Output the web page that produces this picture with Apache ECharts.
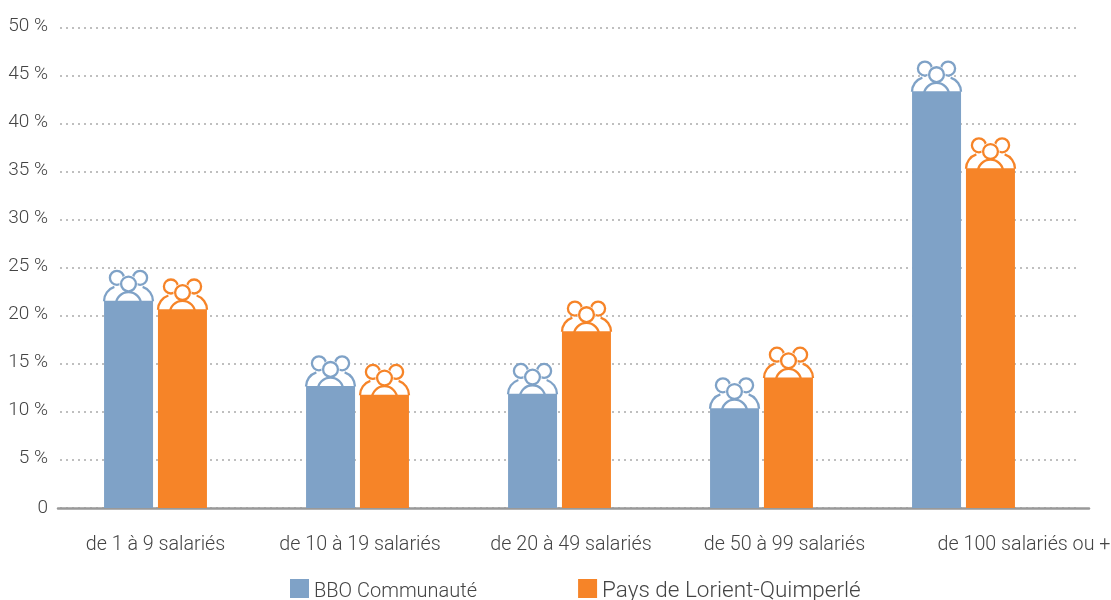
<!DOCTYPE html>
<html><head><meta charset="utf-8">
<style>html,body{margin:0;padding:0;background:#fff}#c{width:1111px;height:600px}</style>
<script src="https://cdn.jsdelivr.net/npm/echarts@6/dist/echarts.min.js"></script>
</head><body><div id="c"></div>
<script>
const categories = ['de 1 à 9 salariés','de 10 à 19 salariés','de 20 à 49 salariés','de 50 à 99 salariés','de 100 salariés ou +'];
const labelShift = [0,2.5,11.5,23,60.5];
const bbo = [21.6,12.7,11.9,10.4,43.4];
const lorient = [20.7,11.8,18.4,13.6,35.4];
const seriesNames = ['BBO Communauté','Pays de Lorient-Quimperlé'];
const BLUE='#7fa2c7', ORANGE='#f68428', TXT='#444', FONT='Roboto,sans-serif';
const TOP=28, BOTTOM=92;

function iconSeries(name,data,color,offset){
  return {type:'custom',xAxisIndex:0,yAxisIndex:0,silent:true,z:5,legendHoverLink:false,
    data:data.map((v,i)=>[i,v]),encode:{x:0,y:1},
    renderItem(params,api){
      const p=api.coord([api.value(0),api.value(1)]);
      const cx=p[0]+offset, y=p[1];
      const lw=2.3;
      const side=(dx)=>[
        {type:'arc',shape:{cx:cx+dx*9.5,cy:y+0.5,r:15,startAngle:dx<0?Math.PI*1.0:Math.PI*1.6,endAngle:dx<0?Math.PI*1.4:Math.PI*2},style:{stroke:color,lineWidth:lw,fill:null}},
        {type:'circle',shape:{cx:cx+dx*11.6,cy:y-22.8,r:7},style:{stroke:color,lineWidth:lw,fill:'#fff'}}
      ];
      return {type:'group',children:[
        ...side(-1),...side(1),
        {type:'circle',shape:{cx:cx,cy:y+4.2,r:12.7},style:{fill:'#fff',stroke:'#fff',lineWidth:6}},
        {type:'circle',shape:{cx:cx,cy:y-16.7,r:7.4},style:{fill:'#fff',stroke:'#fff',lineWidth:3.5}},
        {type:'circle',shape:{cx:cx,cy:y+4.2,r:12.7},style:{fill:'#fff',stroke:color,lineWidth:lw}},
        {type:'circle',shape:{cx:cx,cy:y-16.7,r:7.4},style:{fill:'#fff',stroke:color,lineWidth:lw}}
      ]};
    }};
}

const chart=echarts.init(document.getElementById('c'),null,{renderer:'canvas'});
chart.setOption({
  animation:false,
  textStyle:{fontFamily:FONT},
  legend:{left:290,top:579,padding:0,itemWidth:19,itemHeight:19,itemGap:101,icon:'rect',
    data:seriesNames,
    formatter:n=>n===seriesNames[0]?'{a|'+n+'}':'{b|'+n+'}',
    textStyle:{color:TXT,fontFamily:FONT,fontWeight:300,rich:{
      a:{fontSize:20,fontWeight:300,fontFamily:FONT,color:TXT,padding:[6,0,0,0]},
      b:{fontSize:22.5,fontWeight:300,fontFamily:FONT,color:TXT,padding:[6,0,0,0]}}}},
  grid:[
    {left:54.5,width:1010,top:TOP,bottom:BOTTOM,outerBoundsMode:'none'},
    {left:60,width:1020,top:TOP,bottom:BOTTOM,outerBoundsMode:'none'},
    {left:58,width:1031,top:TOP,bottom:BOTTOM,outerBoundsMode:'none'}
  ],
  xAxis:[
    {type:'category',gridIndex:0,
     data:categories.map((c,i)=>({value:c,textStyle:{padding:[0,0,0,2*labelShift[i]]}})),
     axisLine:{show:false},axisTick:{show:false},
     axisLabel:{color:TXT,fontSize:19.7,fontWeight:300,margin:27,fontFamily:FONT,interval:0,hideOverlap:false}},
    {type:'value',gridIndex:1,show:false,min:0,max:1},
    {type:'value',gridIndex:2,min:0,max:1,splitLine:{show:false},axisTick:{show:false},axisLabel:{show:false},
     axisLine:{show:true,lineStyle:{color:'#999',width:2.5}}}
  ],
  yAxis:[
    {type:'value',gridIndex:0,min:0,max:50,interval:5,show:false,splitLine:{show:false}},
    {type:'value',gridIndex:1,min:0,max:50,interval:5,axisLine:{show:false},axisTick:{show:false},
     splitLine:{show:true,lineStyle:{color:'#ababab',type:[2,4],width:1.6}},
     axisLabel:{color:TXT,margin:12,fontFamily:FONT,fontWeight:300,
       formatter:v=>v===0?'{z|0}':'{p|'+v+' %}',
       rich:{z:{fontSize:19,fontWeight:300,fontFamily:FONT,color:TXT},p:{fontSize:19,fontWeight:300,fontFamily:FONT,color:TXT,padding:[0,0,4,0]}}}},
    {type:'value',gridIndex:2,min:0,max:50,show:false,splitLine:{show:false}}
  ],
  series:[
    {name:seriesNames[0],type:'bar',xAxisIndex:0,yAxisIndex:0,data:bbo,barWidth:49,barGap:'10%',itemStyle:{color:BLUE},z:6},
    {name:seriesNames[1],type:'bar',xAxisIndex:0,yAxisIndex:0,data:lorient,barWidth:49,barGap:'10%',itemStyle:{color:ORANGE},z:6},
    iconSeries('iconA',bbo,BLUE,-27),
    iconSeries('iconB',lorient,ORANGE,27)
  ]
});
</script></body></html>
